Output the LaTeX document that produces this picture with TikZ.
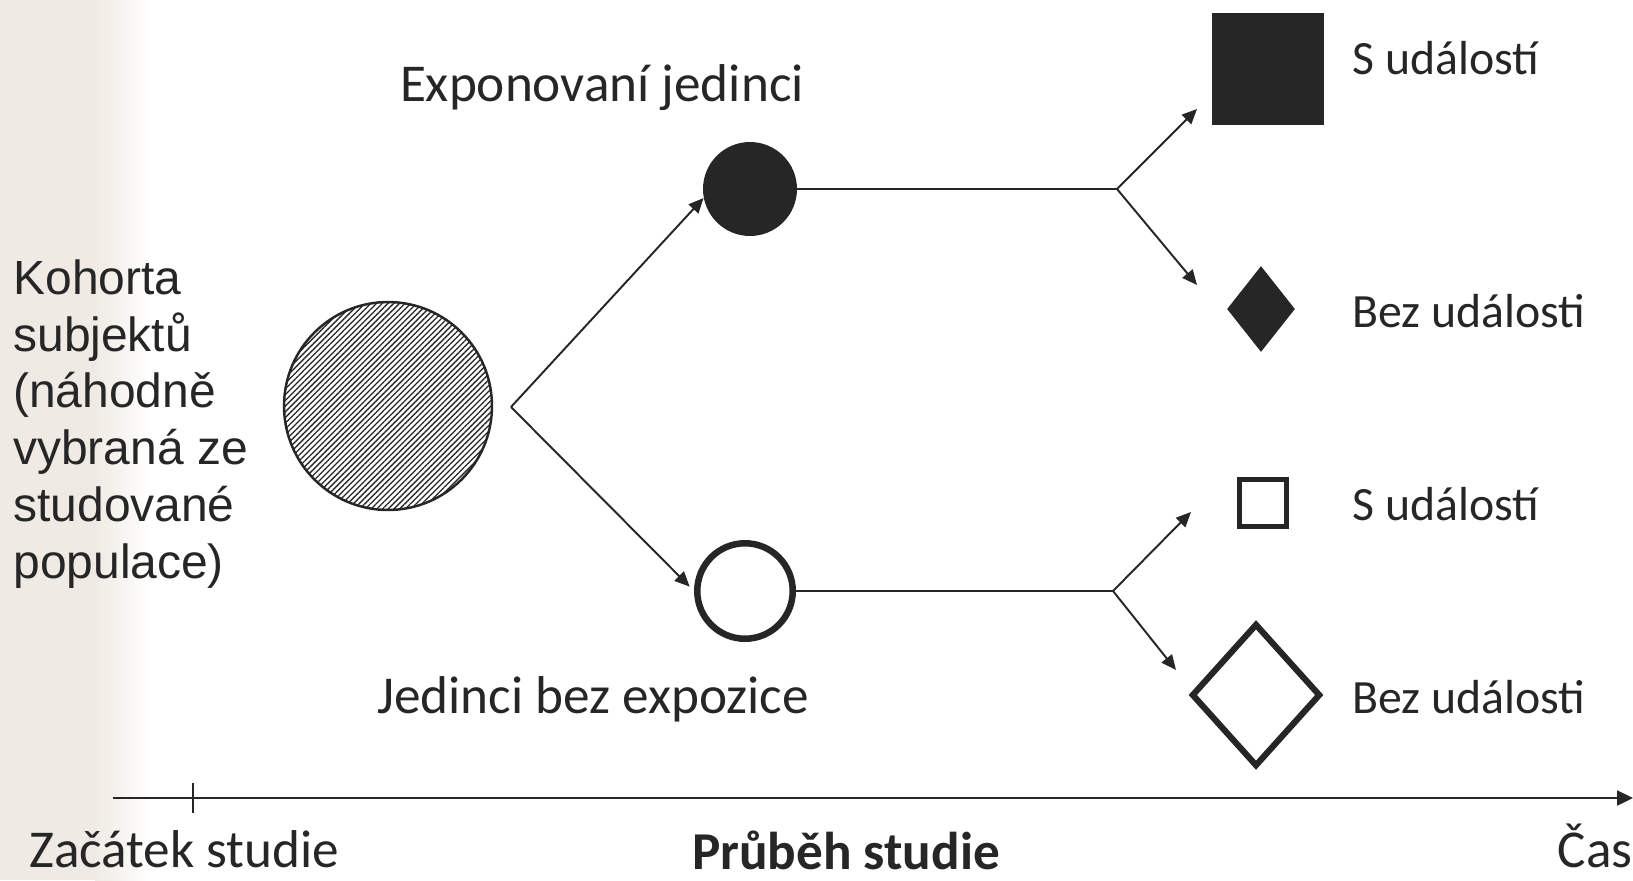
\documentclass[tikz,border=0pt]{standalone}
\usepackage{fontspec}
\setmainfont{Carlito}
\newfontfamily\arialfont{Liberation Sans}
\usepackage{tikz}
\usetikzlibrary{shapes,arrows}
\usetikzlibrary{positioning}
\usetikzlibrary{arrows.meta}
\usetikzlibrary{patterns.meta}

\definecolor{ink}{HTML}{262626}
\definecolor{paper}{HTML}{EFEBE4}

\tikzset{
	tip/.style={-{Triangle[length=8.5pt,width=7.5pt]}},
	link/.style={draw=ink, line width=1.1pt},
	lbl/.style={text=ink, inner sep=0pt, font=\fontsize{30.3}{34}\selectfont},
	evlbl/.style={text=ink, inner sep=0pt, anchor=base west, font=\fontsize{27.2}{31}\selectfont},
	solidshape/.style={fill=ink, inner sep=0pt},
	openshape/.style={draw=ink, fill=white, inner sep=0pt},
}

\begin{document}
\begin{tikzpicture}[x=0.02cm, y=-0.02cm]

	\useasboundingbox (0,0) rectangle (1633,880);
	% background strip
	\fill[paper] (0,0) rectangle (95,880);
	\shade[left color=paper, right color=white] (95,0) rectangle (150,880);

	\node[circle, draw=ink, line width=1.4pt, minimum size=4.16cm, inner sep=0pt,
		pattern={Lines[angle=45,distance=2.3pt,line width=0.75pt]}, pattern color=ink] (cohort) at (388,406) {};
	\node[solidshape, circle, minimum size=1.88cm] (exposed) at (750,189) {};
	\node[openshape, circle, line width=3.7pt, minimum size=1.91cm] (unexposed) at (745,591) {};

	\node[solidshape, rectangle, minimum size=2.24cm] (evA) at (1268,69) {};
	\node[solidshape, diamond, minimum width=1.36cm, minimum height=1.72cm] (noevA) at (1261,309) {};
	\node[openshape, rectangle, line width=3pt, minimum size=0.93cm] (evB) at (1263,503) {};
	\node[openshape, diamond, line width=3.5pt, minimum width=2.58cm, minimum height=2.86cm] (noevB) at (1256,695) {};

	\coordinate (fork) at (511,407);
	\coordinate (splitA) at (1117,189);
	\coordinate (splitB) at (1113,591);
	\coordinate (tipA1) at (1197,109);
	\coordinate (tipA2) at (1197,285);
	\coordinate (tipB1) at (1191,512);
	\coordinate (tipB2) at (1176,670);

	\draw[link, tip] (fork) -- (exposed.191);
	\draw[link, tip, shorten >=3.5pt] (fork) -- (unexposed.west);

	\draw[link] (exposed.east) -- (splitA);
	\draw[link, tip] (splitA) -- (tipA1);
	\draw[link, tip] (splitA) -- (tipA2);
	\draw[link] (unexposed.east) -- (splitB);
	\draw[link, tip] (splitB) -- (tipB1);
	\draw[link, tip] (splitB) -- (tipB2);

	% time axis
	\coordinate (axstart) at (113,798);
	\coordinate (axend) at (1633,798);
	\coordinate (t0) at (193,798);
	\draw[link, -{Triangle[length=9pt,width=8.5pt]}] (axstart) -- (axend);
	\draw[link] (t0) ++(0,-15) -- ++(0,30);

	\node[text=ink, inner sep=0pt, anchor=base west, align=left,
		font=\arialfont\fontsize{27.3}{32.3}\selectfont] (cohortlbl) at (13,578)
		{Kohorta\\subjektů\\(náhodně\\vybraná ze\\studované\\populace)};

	\node[lbl, anchor=base] (explbl) at (602,101) {Exponovaní jedinci};
	\node[lbl, anchor=base] (unexplbl) at (593,713) {Jedinci bez expozice};

	\node[evlbl] (evAlbl) at (1352,74) {S událostí};
	\node[evlbl] (noevAlbl) at (1352,327) {Bez události};
	\node[evlbl] (evBlbl) at (1352,520) {S událostí};
	\node[evlbl] (noevBlbl) at (1352,713) {Bez události};

	\node[lbl, anchor=base west] (startlbl) at (29,867) {Začátek studie};
	\node[lbl, anchor=base, font=\fontsize{30.3}{34}\selectfont\bfseries] (courselbl) at (846,869) {Průběh studie};
	\node[lbl, anchor=base east] (timelbl) at (1633,867) {Čas};

\end{tikzpicture}
\end{document}
